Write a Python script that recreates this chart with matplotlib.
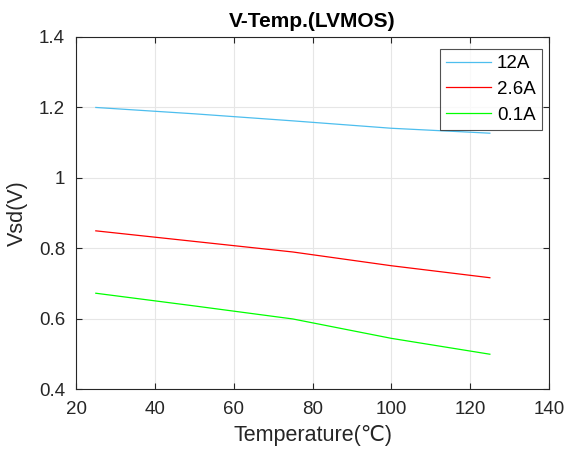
import matplotlib
matplotlib.use("Agg")
import matplotlib.pyplot as plt

plt.rcParams['font.family'] = ['Liberation Sans', 'DejaVu Sans']

temp = [25, 50, 75, 100, 125]
v_12a = [1.200, 1.182, 1.162, 1.141, 1.127]
v_26a = [0.850, 0.820, 0.790, 0.751, 0.717]
v_01a = [0.673, 0.637, 0.600, 0.545, 0.500]
labels = ["12A", "2.6A", "0.1A"]
colors = ["#4DBEEE", "#FF0000", "#00FF00"]

fig = plt.figure(figsize=(5.68, 4.62), dpi=100)
ax = fig.add_axes([0.134, 0.157, 0.8325, 0.763])

for ys, lab, c in zip([v_12a, v_26a, v_01a], labels, colors):
    ax.plot(temp, ys, color=c, lw=0.9, label=lab)

ax.set_xlim(20, 140)
ax.set_ylim(0.4, 1.4)
ax.set_xticks(range(20, 141, 20))
ax.set_yticks([0.4, 0.6, 0.8, 1.0, 1.2, 1.4])
ax.set_yticklabels(["0.4", "0.6", "0.8", "1", "1.2", "1.4"])
ax.grid(True, color="#e6e6e6", lw=0.8)
ax.set_axisbelow(True)
ax.tick_params(direction="in", top=True, right=True, length=4, width=0.8,
               labelsize=13.5, colors="#262626")
ax.tick_params(axis="x", pad=8)
ax.tick_params(axis="y", pad=8)
for s in ax.spines.values():
    s.set_color("#262626")
    s.set_linewidth(0.8)

ax.set_xlabel("Temperature(℃)", fontsize=15.5, color="#262626", labelpad=5)
ax.set_ylabel("Vsd(V)", fontsize=15.5, color="#262626", labelpad=8)
ax.set_title("V-Temp.(LVMOS)", fontsize=15, fontweight="bold", pad=7)

leg = ax.legend(loc="upper right", fontsize=13.5, frameon=True, fancybox=False,
                edgecolor="#262626", handlelength=2.4, handletextpad=0.3,
                borderaxespad=0.35, labelspacing=0.45, borderpad=0.35,
                bbox_to_anchor=(1.0, 0.985))
leg.get_frame().set_linewidth(0.8)

fig.savefig("out.png", dpi=100)
